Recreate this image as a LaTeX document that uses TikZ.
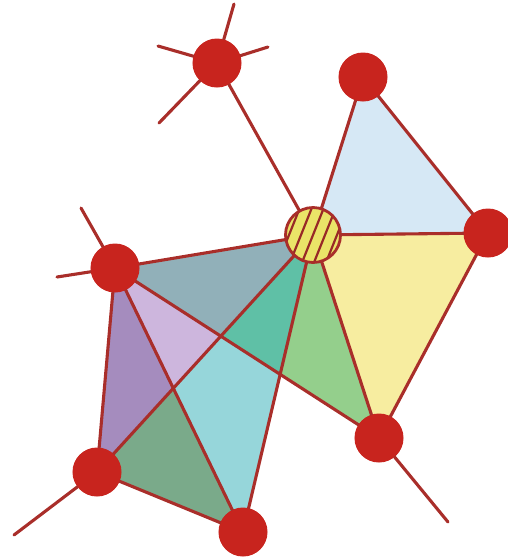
\documentclass[tikz,border=0pt]{standalone}
\usetikzlibrary{calc}
\definecolor{edgec}{HTML}{A92E2A}
\definecolor{nodec}{HTML}{C8241E}
\definecolor{cgray}{HTML}{91B0B9}
\definecolor{clav}{HTML}{CDB6DD}
\definecolor{cteal}{HTML}{5FC0A6}
\definecolor{ccyan}{HTML}{96D6DA}
\definecolor{cdgreen}{HTML}{7AAA8A}
\definecolor{cpurple}{HTML}{A58CBE}
\definecolor{cgreen}{HTML}{94CF8C}
\definecolor{cyellow}{HTML}{F7EDA0}
\definecolor{cblue}{HTML}{D6E8F5}
\definecolor{chatch}{HTML}{EAE468}
\tikzset{
  edge/.style={draw=edgec, line width=3.1pt, line cap=round},
  vert/.style={circle, fill=nodec, draw=nodec, line width=1pt, minimum size=48pt, inner sep=0pt},
  hub/.style={circle, draw=edgec, line width=2.8pt, minimum size=55pt, inner sep=0pt},
  hatchline/.style={draw=edgec!90!black, line width=2.2pt},
}
\begin{document}
\begin{tikzpicture}[x=1pt, y=-1pt]
\useasboundingbox (0,0) rectangle (508,558);
% centres
\coordinate (pS) at (217,63);
\coordinate (pT) at (363,77);
\coordinate (pC) at (313,235);
\coordinate (pR) at (488,233);
\coordinate (pBR) at (379,438);
\coordinate (pL) at (115,268);
\coordinate (pBL) at (97,472);
\coordinate (pB) at (243,532);
% ray ends
\coordinate (s1) at (234,4);
\coordinate (s2) at (158,46);
\coordinate (s3) at (268,47);
\coordinate (s4) at (159,123);
\coordinate (l1) at (81,208);
\coordinate (l2) at (57,277);
\coordinate (bl1) at (14,535);
\coordinate (br1) at (448,522);
% intersections
\coordinate (X1) at (intersection of pL--pBR and pC--pBL);
\coordinate (X2) at (intersection of pL--pBR and pC--pB);
\coordinate (X3) at (intersection of pC--pBL and pL--pB);
% fills
\fill[cblue] (pC) -- (pT) -- (pR) -- cycle;
\fill[cyellow] (pC) -- (pR) -- (pBR) -- cycle;
\fill[cgreen] (pC) -- (X2) -- (pBR) -- cycle;
\fill[cteal] (pC) -- (X1) -- (X2) -- cycle;
\fill[cgray] (pL) -- (pC) -- (X1) -- cycle;
\fill[clav] (pL) -- (X1) -- (X3) -- cycle;
\fill[cpurple] (pL) -- (X3) -- (pBL) -- cycle;
\fill[cdgreen] (pBL) -- (X3) -- (pB) -- cycle;
\fill[ccyan] (X3) -- (X1) -- (X2) -- (pB) -- cycle;
% nodes
\node[vert] (S) at (pS) {};
\node[vert] (T) at (pT) {};
\node[vert] (R) at (pR) {};
\node[vert] (BR) at (pBR) {};
\node[vert] (L) at (pL) {};
\node[vert] (BL) at (pBL) {};
\node[vert] (B) at (pB) {};
% edges
\draw[edge] (S) -- (s1);
\draw[edge] (S) -- (s2);
\draw[edge] (S) -- (s3);
\draw[edge] (S) -- (s4);
\draw[edge] (L) -- (l1);
\draw[edge] (L) -- (l2);
\draw[edge] (BL) -- (bl1);
\draw[edge] (BR) -- (br1);
\draw[edge] (pS) -- (pC);
\draw[edge] (pC) -- (pT);
\draw[edge] (pT) -- (pR);
\draw[edge] (pC) -- (pR);
\draw[edge] (pR) -- (pBR);
\draw[edge] (pC) -- (pBR);
\draw[edge] (pC) -- (pL);
\draw[edge] (pL) -- (pBR);
\draw[edge] (pC) -- (pBL);
\draw[edge] (pC) -- (pB);
\draw[edge] (pL) -- (pB);
\draw[edge] (pL) -- (pBL);
\draw[edge] (pBL) -- (pB);
% redraw node discs on top of the edges
\foreach \n in {pS,pT,pR,pBR,pL,pBL,pB}{
  \fill[nodec] (\n) circle (24pt);
}
% hatched hub
\fill[chatch] (pC) circle (27pt);
\begin{scope}
\clip (pC) circle (27pt);
\foreach \d in {-36,-24,-12,0,12,24,36}{
  \draw[hatchline] ($(pC)+(\d,0)+(-12,30)$) -- ($(pC)+(\d,0)+(12,-30)$);
}
\end{scope}
\node[hub] (C) at (pC) {};
\end{tikzpicture}
\end{document}
